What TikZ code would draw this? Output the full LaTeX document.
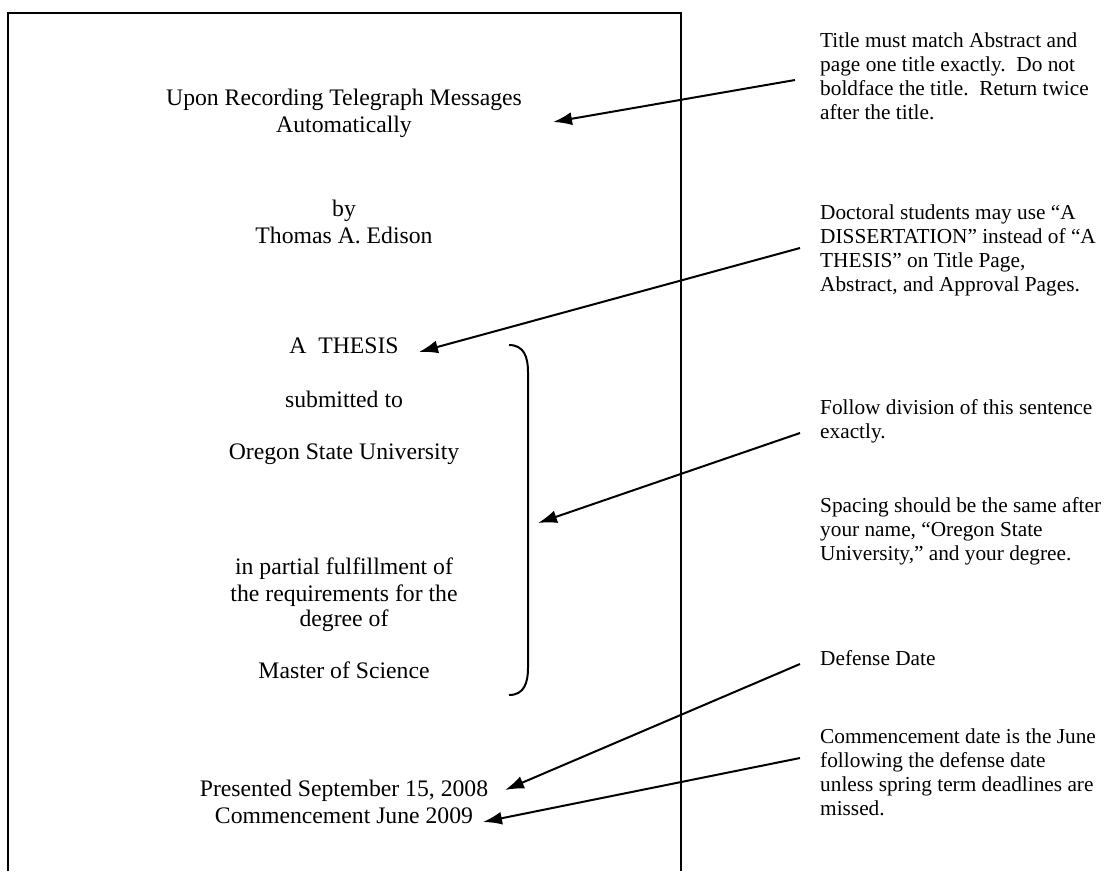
\documentclass[tikz,border=0pt]{standalone}
\usepackage{fontspec}
\setmainfont{Liberation Serif}
\usetikzlibrary{arrows.meta}
\tikzset{
  pagetext/.style={anchor=base, inner sep=0pt, font=\fontsize{23.7}{27}\selectfont},
  notetext/.style={anchor=base west, inner sep=0pt, font=\fontsize{21.3}{24.3}\selectfont},
  pointer/.style={line width=2pt, -{Latex[length=19pt,width=13pt]}},
  pageborder/.style={line width=2.4pt},
  bracket/.style={line width=2pt}
}
\begin{document}
\begin{tikzpicture}[x=1pt,y=-1pt]
\useasboundingbox (0,0) rectangle (1107,871);
% page
\draw[pageborder] (8,871) -- (8,13) -- (681,13) -- (681,871);
% page texts
\node[pagetext] (title1) at (344,105) {Upon Recording Telegraph Messages};
\node[pagetext] (title2) at (344,132) {Automatically};
\node[pagetext] (by) at (344,216) {by};
\node[pagetext] (author) at (344,243) {Thomas A. Edison};
\node[pagetext] (thesis) at (344,353) {A\ \ THESIS};
\node[pagetext] (submitted) at (344,407) {submitted to};
\node[pagetext] (osu) at (344,459) {Oregon State University};
\node[pagetext] (partial1) at (344,574) {in partial fulfillment of};
\node[pagetext] (partial2) at (344,601) {the requirements for the};
\node[pagetext] (partial3) at (344,626) {degree of};
\node[pagetext] (degree) at (344,678) {Master of Science};
\node[pagetext] (presented) at (344,796) {Presented September 15, 2008};
\node[pagetext] (commence) at (344,823) {Commencement June 2009};
% bracket
\draw[bracket] (509,345) .. controls (524,345) and (528,357) .. (528,372)
  -- (528,668) .. controls (528,683) and (524,695) .. (509,695);
% notes
\node[notetext] (n1a) at (820,47) {Title must match Abstract and};
\node[notetext] (n1b) at (820,71) {page one title exactly.\ \ Do not};
\node[notetext] (n1c) at (820,95) {boldface the title.\ \ Return twice};
\node[notetext] (n1d) at (820,119) {after the title.};
\node[notetext] (n2a) at (820,219) {Doctoral students may use ``A};
\node[notetext] (n2b) at (820,243) {DISSERTATION'' instead of ``A};
\node[notetext] (n2c) at (820,267) {THESIS'' on Title Page,};
\node[notetext] (n2d) at (820,291) {Abstract, and Approval Pages.};
\node[notetext] (n3a) at (820,414) {Follow division of this sentence};
\node[notetext] (n3b) at (820,438) {exactly.};
\node[notetext] (n4a) at (820,512) {Spacing should be the same after};
\node[notetext] (n4b) at (820,536) {your name, ``Oregon State};
\node[notetext] (n4c) at (820,560) {University,'' and your degree.};
\node[notetext] (n5a) at (820,665) {Defense Date};
\node[notetext] (n6a) at (820,743) {Commencement date is the June};
\node[notetext] (n6b) at (820,767) {following the defense date};
\node[notetext] (n6c) at (820,791) {unless spring term deadlines are};
\node[notetext] (n6d) at (820,815) {missed.};
% arrow end points
\coordinate (s1) at (795,80);   \coordinate (t1) at (553,122);
\coordinate (s2) at (800,248);  \coordinate (t2) at (419,352);
\coordinate (s3) at (800,433);  \coordinate (t3) at (538,523);
\coordinate (s5) at (800,664);  \coordinate (t5) at (505,790);
\coordinate (s6) at (800,758);  \coordinate (t6) at (483,822);
\draw[pointer] (s1) -- (t1);
\draw[pointer] (s2) -- (t2);
\draw[pointer] (s3) -- (t3);
\draw[pointer] (s5) -- (t5);
\draw[pointer] (s6) -- (t6);
\end{tikzpicture}
\end{document}
